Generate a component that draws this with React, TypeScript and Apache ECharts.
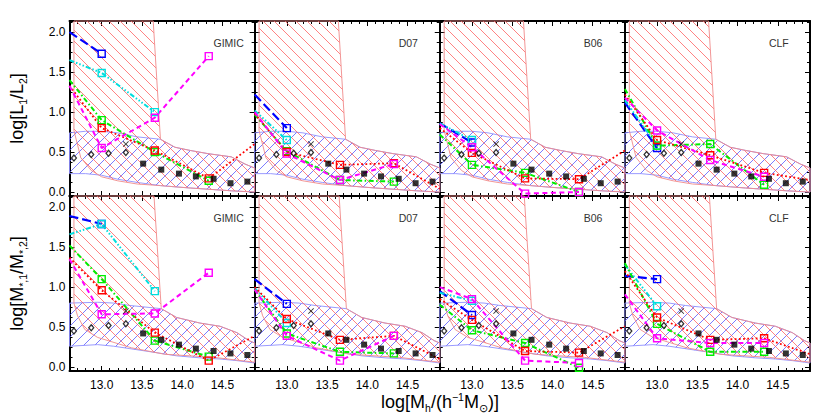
import React, { useEffect, useRef } from 'react';
import * as echarts from 'echarts';

// ---------------- data ----------------
const PANEL_NAMES = ['GIMIC', 'D07', 'B06', 'CLF'];
// model bins; first and last entries are where the curves meet the frame (no marker)
const X_MODEL = [12.6, 13.0, 13.66, 14.33, 14.9];

// top row: log(L1/L2), one entry per panel
const L_BLUE = [[2.0, 1.73], [1.22, 0.8], [0.86, 0.62], [1.12, 0.55]];
const L_CYAN = [[1.65, 1.49, 1.0], [1.02, 0.65], [0.86, 0.65], [1.15, 0.58]];
const L_GREEN = [[1.4, 0.9, 0.5, 0.14], [0.97, 0.51, 0.15, 0.13], [0.72, 0.34, 0.24, 0.0], [1.29, 0.58, 0.6, 0.09]];
const L_RED = [[1.33, 0.8, 0.52, 0.17, 0.6], [0.98, 0.5, 0.34, 0.36, 0.04], [0.8, 0.49, 0.17, 0.16, 0.52], [1.22, 0.65, 0.46, 0.24, 0.15]];
const L_MAGENTA = [[1.33, 0.55, 0.93, 1.7], [1.0, 0.48, 0.15, 0.35], [0.85, 0.56, -0.02, 0.0], [1.18, 0.77, 0.4, 0.19]];

// bottom row: log(M*,1/M*,2)
const M_BLUE = [[1.89, 1.79], [1.1, 0.79], [0.95, 0.65], [1.14, 1.1]];
const M_CYAN = [[1.66, 1.79, 0.95], [0.99, 0.55], [0.93, 0.83], [1.28, 0.76]];
const M_GREEN = [[1.52, 1.1, 0.33, 0.13], [0.97, 0.42, 0.19, 0.17], [0.78, 0.46, 0.3, -0.01], [1.3, 0.54, 0.19, 0.19]];
const M_RED = [[1.37, 0.96, 0.43, 0.08, 0.39], [1.0, 0.6, 0.34, 0.39, 0.1], [0.85, 0.59, 0.2, 0.18, 0.51], [1.2, 0.62, 0.34, 0.36, 0.16]];
const M_MAGENTA = [[1.35, 0.66, 0.67, 1.18], [0.97, 0.39, 0.08, 0.39], [1.0, 0.85, 0.08, 0.05], [0.91, 0.36, 0.3, 0.3]];

// observations (same in each panel of a row)
const OBS_X_LOW = [12.655, 12.87, 13.085, 13.3];
const OBS_X_CROSS = [13.3];
const OBS_X_HIGH = [13.515, 13.74, 13.96, 14.17, 14.39, 14.6, 14.81];
const L_OBS_LOW = [0.425, 0.47, 0.485, 0.495];
const L_OBS_CROSS = [0.6];
const L_OBS_HIGH = [0.355, 0.28, 0.23, 0.195, 0.165, 0.11, 0.13];
const M_OBS_LOW = [0.45, 0.49, 0.52, 0.54];
const M_OBS_CROSS = [0.7];
const M_OBS_HIGH = [0.42, 0.34, 0.28, 0.23, 0.2, 0.17, 0.15];

// shaded regions
const L_BAND_X = [12.6, 12.8, 13.0, 13.2, 13.44, 13.73, 13.91, 14.1, 14.32, 14.61, 14.78, 14.9];
const L_BAND_HI = [0.74, 0.76, 0.76, 0.74, 0.69, 0.66, 0.56, 0.52, 0.48, 0.44, 0.35, 0.3];
const L_BAND_LO = [0.23, 0.23, 0.21, 0.16, 0.12, 0.08, 0.065, 0.05, 0.035, 0.015, 0.005, 0.0];
const L_RED_REGION = [[12.655, 2.14], [13.64, 2.14], [13.73, 0.66], [13.91, 0.56], [14.1, 0.52], [14.32, 0.48], [14.61, 0.44], [14.78, 0.35], [14.9, 0.3], [14.9, 0.0], [14.61, 0.015], [14.32, 0.035], [14.1, 0.05], [13.91, 0.065], [13.73, 0.08], [13.44, 0.1], [13.2, 0.14], [13.0, 0.19], [12.87, 0.27], [12.74, 0.43], [12.655, 0.77]];

const M_BAND_X = [12.6, 12.95, 13.15, 13.35, 13.74, 13.93, 14.22, 14.47, 14.68, 14.83, 14.9];
const M_BAND_HI = [0.8, 0.81, 0.8, 0.77, 0.73, 0.62, 0.55, 0.51, 0.43, 0.33, 0.3];
const M_BAND_LO = [0.26, 0.28, 0.26, 0.23, 0.17, 0.14, 0.115, 0.1, 0.08, 0.06, 0.05];
const M_RED_REGION = [[12.655, 2.14], [13.65, 2.14], [13.74, 0.73], [13.93, 0.62], [14.22, 0.55], [14.47, 0.51], [14.68, 0.43], [14.83, 0.33], [14.9, 0.3], [14.9, 0.06], [14.4, 0.12], [13.78, 0.16], [13.37, 0.24], [12.95, 0.37], [12.79, 0.47], [12.7, 0.64], [12.655, 0.8]];

// axes
const XMIN = 12.6, XMAX = 14.9, YMIN = -0.05, YMAX = 2.14;
const X_MAJOR = [13.0, 13.5, 14.0, 14.5];
const Y_MAJOR = [0.0, 0.5, 1.0, 1.5, 2.0];

// ---------------- layout/style ----------------
const FONT = 'Liberation Sans, Arial, Helvetica, sans-serif';
const LEFT0 = 69.5, PW = 185.125, PH = 175;
const ROW_TOP = [21, 196];

const X_MINOR: number[] = [];
for (let i = 127; i <= 148; i++) { if (i % 5 !== 0) X_MINOR.push(i / 10); }
const Y_MINOR: number[] = [];
for (let i = 1; i <= 17; i++) { if (i % 4 !== 0) Y_MINOR.push(i * 0.125); }

const svgUrl = (s: string) => 'data:image/svg+xml;charset=utf-8,' + encodeURIComponent(s);
const RED_HATCH = {
  image: svgUrl('<svg xmlns="http://www.w3.org/2000/svg" width="11" height="11"><path d="M-2,-2L13,13M-2,9L2,13M9,-2L13,2" stroke="#ff5a5a" stroke-width="0.75" fill="none"/></svg>'),
  repeat: 'repeat', imageWidth: 11, imageHeight: 11,
};
const BLUE_HATCH = {
  image: svgUrl('<svg xmlns="http://www.w3.org/2000/svg" width="11" height="11"><path d="M-2,13L13,-2M-2,2L2,-2M9,13L13,9" stroke="#5050ff" stroke-width="0.75" fill="none"/></svg>'),
  repeat: 'repeat', imageWidth: 11, imageHeight: 11,
};

const LINE_STYLES = [
  { color: '#0000ff', type: [9, 4], width: 2.2 },
  { color: '#00dede', type: [5, 2, 1.5, 2, 1.5, 2, 1.5, 2], width: 2 },
  { color: '#00ee00', type: [5, 2.5, 1.5, 2.5], width: 2 },
  { color: '#ff0000', type: [1.8, 2.4], width: 1.8 },
  { color: '#ff00ff', type: [5, 3.5], width: 2 },
];

function buildOption() {
  const grid: any[] = [];
  const xAxis: any[] = [];
  const yAxis: any[] = [];
  const series: any[] = [];
  const graphic: any[] = [];

  for (let row = 0; row < 2; row++) {
    for (let col = 0; col < 4; col++) {
      const g = row * 4 + col;
      const left = LEFT0 + col * PW;
      const top = ROW_TOP[row];
      grid.push({ left, top, width: PW, height: PH, containLabel: false, outerBoundsMode: 'none', show: false });

      const lineOn = { show: true, onZero: false, lineStyle: { color: '#000', width: 2 } };
      const lineOff = { show: false, onZero: false };
      const tick = (vals: number[], len: number) => ({ show: true, inside: true, length: len, customValues: vals, lineStyle: { color: '#000', width: 1 } });
      const labelOff = { show: false };
      const xb = { type: 'value', gridIndex: g, min: XMIN, max: XMAX, splitLine: { show: false } };
      const yb = { type: 'value', gridIndex: g, min: YMIN, max: YMAX, splitLine: { show: false } };

      xAxis.push({
        ...xb, position: 'bottom', axisLine: lineOn, axisTick: tick(X_MAJOR, 5),
        axisLabel: row === 1 ? { show: true, customValues: X_MAJOR, formatter: (v: number) => v.toFixed(1), fontSize: 12, fontFamily: FONT, color: '#000', margin: 8 } : labelOff,
      });
      xAxis.push({ ...xb, position: 'bottom', axisLine: lineOff, axisTick: tick(X_MINOR, 3), axisLabel: labelOff });
      xAxis.push({ ...xb, position: 'top', axisLine: lineOn, axisTick: tick(X_MAJOR, 5), axisLabel: labelOff });
      xAxis.push({ ...xb, position: 'top', axisLine: lineOff, axisTick: tick(X_MINOR, 3), axisLabel: labelOff });

      yAxis.push({
        ...yb, position: 'left', axisLine: lineOn, axisTick: tick(Y_MAJOR, 5),
        axisLabel: col === 0 ? { show: true, customValues: Y_MAJOR, formatter: (v: number) => v.toFixed(1), fontSize: 12, fontFamily: FONT, color: '#000', margin: 4 } : labelOff,
      });
      yAxis.push({ ...yb, position: 'left', axisLine: lineOff, axisTick: tick(Y_MINOR, 3), axisLabel: labelOff });
      yAxis.push({ ...yb, position: 'right', axisLine: lineOn, axisTick: tick(Y_MAJOR, 5), axisLabel: labelOff });
      yAxis.push({ ...yb, position: 'right', axisLine: lineOff, axisTick: tick(Y_MINOR, 3), axisLabel: labelOff });

      const ax = { xAxisIndex: g * 4, yAxisIndex: g * 4 };

      // regions
      const bandX = row === 0 ? L_BAND_X : M_BAND_X;
      const bandHi = row === 0 ? L_BAND_HI : M_BAND_HI;
      const bandLo = row === 0 ? L_BAND_LO : M_BAND_LO;
      const bandPoly: number[][] = [];
      bandX.forEach((x, i) => bandPoly.push([x, bandHi[i]]));
      for (let i = bandX.length - 1; i >= 0; i--) bandPoly.push([bandX[i], bandLo[i]]);
      const redPoly = row === 0 ? L_RED_REGION : M_RED_REGION;

      const region = (poly: number[][], fill: any, stroke: string, z: number) => ({
        type: 'custom', coordinateSystem: 'cartesian2d', ...ax, silent: true, z,
        data: [[13.5, 1.0]],
        renderItem: (_p: any, api: any) => ({
          type: 'polygon',
          shape: { points: poly.map((p) => api.coord(p)) },
          style: { fill, stroke, lineWidth: 0.9 },
        }),
      });
      series.push(region(bandPoly, BLUE_HATCH, '#8f8fff', 1));
      series.push(region(redPoly, RED_HATCH, '#f08a8a', 2));

      // model curves
      const sets = row === 0 ? [L_BLUE, L_CYAN, L_GREEN, L_RED, L_MAGENTA] : [M_BLUE, M_CYAN, M_GREEN, M_RED, M_MAGENTA];
      sets.forEach((set, k) => {
        const vals = set[col];
        const st = LINE_STYLES[k];
        const data = vals.map((v, i) => ({
          value: [X_MODEL[i], v],
          symbol: i === 0 || i === 4 ? 'none' : 'rect',
        }));
        series.push({
          type: 'line', ...ax, data, z: 3, silent: true, clip: true,
          symbolSize: 7,
          itemStyle: { color: 'rgba(255,255,255,0)', borderColor: st.color, borderWidth: 1.4 },
          lineStyle: { color: st.color, width: st.width, type: st.type },
        });
      });

      // observations
      const oLow = row === 0 ? L_OBS_LOW : M_OBS_LOW;
      const oCross = row === 0 ? L_OBS_CROSS : M_OBS_CROSS;
      const oHigh = row === 0 ? L_OBS_HIGH : M_OBS_HIGH;
      series.push({
        type: 'scatter', ...ax, z: 4, silent: true, symbol: 'diamond', symbolSize: [5, 6],
        itemStyle: { color: '#fff', borderColor: '#000', borderWidth: 1.3 },
        data: OBS_X_LOW.map((x, i) => [x, oLow[i]]),
      });
      series.push({
        type: 'scatter', ...ax, z: 4, silent: true,
        symbol: 'path://M0,1L1,0L5,4L9,0L10,1L6,5L10,9L9,10L5,6L1,10L0,9L4,5Z', symbolSize: 6,
        itemStyle: { color: '#000' },
        data: OBS_X_CROSS.map((x, i) => [x, oCross[i]]),
      });
      series.push({
        type: 'scatter', ...ax, z: 4, silent: true, symbol: 'rect', symbolSize: 6,
        itemStyle: { color: '#000' },
        data: OBS_X_HIGH.map((x, i) => [x, oHigh[i]]),
      });

      graphic.push({
        type: 'text', x: left + 144, y: top + 22, z: 10,
        style: { text: PANEL_NAMES[col], font: `10.5px ${FONT}`, fill: '#333', align: 'left', verticalAlign: 'middle' },
      });
    }
  }

  const rich = {
    a: { fontSize: 18, fontFamily: FONT, color: '#000', lineHeight: 22 },
    s: { fontSize: 10.5, fontFamily: FONT, color: '#000', verticalAlign: 'bottom', lineHeight: 10 },
    p: { fontSize: 10.5, fontFamily: FONT, color: '#000', verticalAlign: 'top', lineHeight: 10 },
  };
  graphic.push({
    type: 'text', x: 440, y: 402, z: 10,
    style: { text: '{a|log[M}{s|h}{a|/(h}{p|−1}{a|M}{s|⊙}{a|)]}', rich, align: 'center', verticalAlign: 'middle' },
  });
  graphic.push({
    type: 'text', x: 17, y: 108.5, rotation: Math.PI / 2, z: 10,
    style: { text: '{a|log[L}{s|1}{a|/L}{s|2}{a|]}', rich, align: 'center', verticalAlign: 'middle' },
  });
  graphic.push({
    type: 'text', x: 17, y: 283.5, rotation: Math.PI / 2, z: 10,
    style: { text: '{a|log[M}{s|*,1}{a|/M}{s|*,2}{a|]}', rich, align: 'center', verticalAlign: 'middle' },
  });

  return { animation: false, backgroundColor: '#fff', grid, xAxis, yAxis, series, graphic };
}

export default function App() {
  const ref = useRef<HTMLDivElement>(null);
  useEffect(() => {
    const chart = echarts.init(ref.current!, null, { renderer: 'svg' });
    chart.setOption(buildOption() as any);
    return () => chart.dispose();
  }, []);
  return <div ref={ref} style={{ position: 'fixed', left: 0, top: 0, width: 830, height: 415, background: '#fff' }} />;
}
